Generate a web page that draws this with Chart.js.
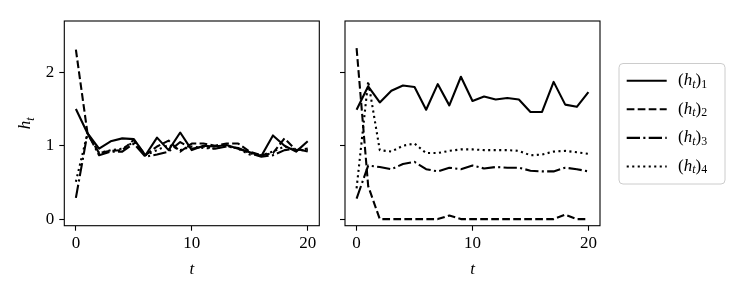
<!DOCTYPE html>
<html>
<head>
<meta charset="utf-8">
<script src="https://cdn.jsdelivr.net/npm/chart.js@4"></script>
<style>
  html, body { margin: 0; padding: 0; background: #fff; }
  #wrap { position: relative; width: 747px; height: 299px; }
  canvas { position: absolute; top: 0; }
</style>
</head>
<body>
<div id="wrap">
  <canvas id="leftPanel" width="332" height="299" style="left:0;width:332px;height:299px"></canvas>
  <canvas id="rightPanel" width="415" height="299" style="left:332px;width:415px;height:299px"></canvas>
</div>
<script>
// time steps and ticks
const steps = [0, 1, 2, 3, 4, 5, 6, 7, 8, 9, 10, 11, 12, 13, 14, 15, 16, 17, 18, 19, 20];
const xTicks = [0, 10, 20];
const yTicks = [0, 1, 2];
const seriesIdx = ['1', '2', '3', '4'];

// left panel, (h_t)_1 .. (h_t)_4
const left1 = [1.50, 1.17, 0.96, 1.06, 1.10, 1.09, 0.87, 1.11, 0.94, 1.18, 0.94, 1.00, 0.99, 1.01, 0.96, 0.91, 0.86, 1.14, 1.00, 0.92, 1.06];
const left2 = [2.31, 1.17, 0.90, 0.93, 0.94, 1.08, 0.87, 0.99, 1.07, 0.92, 1.03, 1.03, 1.00, 1.03, 1.03, 0.92, 0.87, 0.90, 1.10, 0.94, 0.96];
const left3 = [0.29, 1.17, 0.87, 0.92, 0.92, 1.03, 0.85, 0.88, 0.92, 1.05, 0.96, 0.99, 0.96, 0.99, 0.97, 0.90, 0.85, 0.87, 0.94, 0.96, 0.92];
const left4 = [0.51, 1.17, 0.90, 0.94, 0.96, 1.05, 0.87, 0.94, 1.01, 0.94, 0.99, 0.97, 0.96, 1.00, 0.96, 0.88, 0.87, 0.92, 0.99, 0.94, 0.94];

// right panel
const right1 = [1.49, 1.81, 1.59, 1.75, 1.82, 1.80, 1.49, 1.84, 1.55, 1.94, 1.61, 1.67, 1.63, 1.65, 1.63, 1.46, 1.46, 1.87, 1.56, 1.53, 1.73];
const right2 = [2.33, 0.45, 0.00, 0.00, 0.00, 0.00, 0.00, 0.00, 0.05, 0.00, 0.00, 0.00, 0.00, 0.00, 0.00, 0.00, 0.00, 0.00, 0.06, 0.00, 0.00];
const right3 = [0.28, 0.73, 0.71, 0.68, 0.75, 0.78, 0.68, 0.65, 0.70, 0.68, 0.73, 0.69, 0.71, 0.70, 0.70, 0.66, 0.65, 0.65, 0.70, 0.68, 0.65];
const right4 = [0.42, 1.88, 0.94, 0.92, 1.00, 1.03, 0.90, 0.90, 0.93, 0.95, 0.95, 0.94, 0.94, 0.94, 0.93, 0.87, 0.88, 0.92, 0.93, 0.91, 0.89];

const FONT = "'Liberation Serif', 'DejaVu Serif', serif";
const dashes = [[], [7.7, 3.3], [13.3, 3.3, 2.1, 3.3], [2.1, 3.4]];

function makeDatasets(arrs) {
    return arrs.map((vals, i) => ({
        label: '(h_t)_' + seriesIdx[i],
        data: steps.map((t, k) => ({ x: t, y: vals[k] })),
        borderColor: '#000',
        borderWidth: 2.1,
        borderDash: dashes[i],
        borderJoinStyle: 'round',
        pointRadius: 0,
        fill: false,
        tension: 0
    }));
}

// draws "h_t"-style text pieces: [text, italic, sub]
function drawMath(ctx, x, y, parts, size) {
    let cx = x;
    parts.forEach(([txt, ital, sub]) => {
        const fs = sub ? size * 0.7 : size;
        ctx.font = (ital ? 'italic ' : '') + fs + 'px ' + FONT;
        ctx.fillText(txt, cx, y + (sub ? size * 0.22 : 0));
        cx += ctx.measureText(txt).width;
    });
    return cx - x;
}
function mathWidth(ctx, parts, size) {
    let w = 0;
    parts.forEach(([txt, ital, sub]) => {
        const fs = sub ? size * 0.7 : size;
        ctx.font = (ital ? 'italic ' : '') + fs + 'px ' + FONT;
        w += ctx.measureText(txt).width;
    });
    return w;
}

const framePlugin = {
    id: 'frame',
    afterDraw(chart, args, opts) {
        const { ctx, chartArea: a } = chart;
        ctx.save();
        ctx.strokeStyle = '#000';
        ctx.lineWidth = 1.1;
        ctx.strokeRect(a.left, a.top, a.right - a.left, a.bottom - a.top);
        ctx.fillStyle = '#000';
        ctx.textBaseline = 'middle';
        // x title
        ctx.textAlign = 'left';
        ctx.font = 'italic 17px ' + FONT;
        const tw = ctx.measureText('t').width;
        ctx.fillText('t', (a.left + a.right) / 2 - tw / 2, 270);
        if (opts.yTitle) {
            const parts = [['h', true, false], ['t', true, true]];
            ctx.save();
            ctx.translate(30, (a.top + a.bottom) / 2);
            ctx.rotate(-Math.PI / 2);
            ctx.textBaseline = 'alphabetic';
            const w = mathWidth(ctx, parts, 17);
            drawMath(ctx, -w / 2, 0, parts, 17);
            ctx.restore();
        }
        if (opts.legend) {
            const L = opts.legend;
            ctx.beginPath();
            ctx.roundRect(L.x, L.y, L.w, L.h, 4);
            ctx.fillStyle = 'rgba(255,255,255,0.8)';
            ctx.fill();
            ctx.strokeStyle = '#cccccc';
            ctx.lineWidth = 1;
            ctx.stroke();
            chart.data.datasets.forEach((ds, i) => {
                const ry = L.y + 17.2 + i * 28.6;
                ctx.beginPath();
                ctx.setLineDash(ds.borderDash);
                ctx.strokeStyle = ds.borderColor;
                ctx.lineWidth = ds.borderWidth;
                ctx.moveTo(L.x + 7.7, ry);
                ctx.lineTo(L.x + 47.7, ry);
                ctx.stroke();
                ctx.setLineDash([]);
                ctx.fillStyle = '#000';
                ctx.textBaseline = 'middle';
                drawMath(ctx, L.x + 59, ry, [['(', false, false], ['h', true, false], ['t', true, true], [')', false, false], [seriesIdx[i], false, true]], 17);
            });
        }
        ctx.restore();
    }
};

function makeOptions(cfg) {
    return {
        responsive: false,
        animation: false,
        layout: { padding: { left: 0, right: cfg.padRight, top: 21, bottom: 0 } },
        plugins: {
            legend: { display: false },
            tooltip: { enabled: false },
            frame: { yTitle: cfg.yTitle, legend: cfg.legend }
        },
        scales: {
            x: {
                type: 'linear',
                min: -1,
                max: 21,
                afterBuildTicks: s => { s.ticks = xTicks.map(v => ({ value: v })); },
                afterFit: s => { s.height = 299 - 225.7; },
                ticks: { color: '#000', font: { family: FONT, size: 17 }, padding: 3, maxRotation: 0, autoSkip: false },
                grid: { drawOnChartArea: false, drawTicks: true, tickLength: 5, tickWidth: 1.1, color: '#000' },
                border: { display: false }
            },
            y: {
                type: 'linear',
                min: -0.09,
                max: 2.70,
                afterBuildTicks: s => { s.ticks = yTicks.map(v => ({ value: v })); },
                afterFit: s => { s.width = cfg.yWidth; },
                ticks: { display: cfg.yLabels, color: '#000', font: { family: FONT, size: 17 }, padding: 5 },
                grid: { drawOnChartArea: false, drawTicks: true, tickLength: 5, tickWidth: 1.1, color: '#000' },
                border: { display: false }
            }
        }
    };
}

new Chart(document.getElementById('leftPanel'), {
    type: 'line',
    data: { datasets: makeDatasets([left1, left2, left3, left4]) },
    options: makeOptions({ padRight: 332 - 319.3, yWidth: 64.3, yLabels: true, yTitle: true, legend: null }),
    plugins: [framePlugin]
});

new Chart(document.getElementById('rightPanel'), {
    type: 'line',
    data: { datasets: makeDatasets([right1, right2, right3, right4]) },
    options: makeOptions({ padRight: 415 - 268, yWidth: 13, yLabels: false, yTitle: false,
        legend: { x: 287, y: 63.5, w: 106, h: 120.5 } }),
    plugins: [framePlugin]
});
</script>
</body>
</html>
